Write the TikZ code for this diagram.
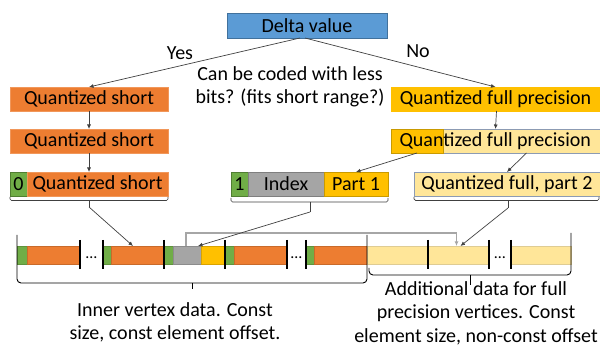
\documentclass[tikz,border=0pt]{standalone}
\usepackage{fontspec}
\setmainfont{Carlito}
\usetikzlibrary{arrows.meta,calc}
\definecolor{cblue}{HTML}{5B9BD5}
\definecolor{cblueb}{HTML}{41719C}
\definecolor{corange}{HTML}{ED7D31}
\definecolor{corangeb}{HTML}{C8652A}
\definecolor{cgold}{HTML}{FFC000}
\definecolor{cgoldb}{HTML}{C99A00}
\definecolor{clight}{HTML}{FFE699}
\definecolor{clightb}{HTML}{8C9BB3}
\definecolor{cgreen}{HTML}{70AD47}
\definecolor{cgreenb}{HTML}{507E32}
\definecolor{cgray}{HTML}{A5A5A5}
\definecolor{cgrayb}{HTML}{7F7F7F}
\definecolor{cline}{HTML}{404040}
\definecolor{cgline}{HTML}{A6A6A6}
\begin{document}
\begin{tikzpicture}[x=1pt,y=-1pt,
  box/.style={anchor=north west, inner sep=0pt, outer sep=0pt, minimum height=24pt, line width=0.6pt, font=\fontsize{20}{24}\selectfont, text=black},
  txt/.style={inner sep=0pt, font=\fontsize{20}{23.5}\selectfont, align=center, text=black},
  seg/.style={anchor=west, inner sep=0pt, outer sep=0pt, minimum height=18pt, line width=0.5pt},
  arr/.style={draw=cline, line width=0.7pt, -{Latex[length=4.5pt,width=4pt]}},
  garr/.style={draw=cgline, line width=1.1pt, -{Latex[length=4.5pt,width=4pt]}},
  brk/.style={draw=cline, line width=0.7pt, rounded corners=1.5pt},
  brc/.style={draw=black, line width=0.9pt, rounded corners=4pt},
  tick/.style={draw=black, line width=1.1pt},
  dots/.style={inner sep=0pt, font=\fontsize{16}{18}\selectfont, text=black}]
\useasboundingbox (0,0) rectangle (600,347);

% top
\node[box, fill=cblue, draw=cblueb, minimum width=160pt, minimum height=25pt] (delta) at (227,13) {Delta value};
\node[txt] (yes) at (180,53) {Yes};
\node[txt] (no) at (418,51) {No};
\node[txt] (q) at (290,87) {Can be coded with less\\bits? (fits short range?)};

% left column
\node[box, fill=corange, draw=corange!80!white, minimum width=158pt] (qs1) at (10,87) {Quantized short};
\node[box, fill=corange, draw=corange!80!white, minimum width=158pt] (qs2) at (10,129) {Quantized short};
\node[box, fill=cgreen, draw=cgreenb, minimum width=17pt] (qs3z) at (10,172) {0};
\node[box, fill=corange, draw=corange!80!white, minimum width=141pt] (qs3) at (27,172) {Quantized short};

% middle
\node[box, fill=cgreen, draw=cgreenb, minimum width=17pt] (one) at (231,172) {1};
\node[box, fill=cgray, draw=cgrayb, minimum width=76pt] (idx) at (248,172) {Index};
\node[box, fill=cgold, draw=cgoldb, minimum width=64pt] (p1) at (324,172) {Part 1};

% right column
\node[box, fill=cgold, draw=cgold, minimum width=209pt] (qf1) at (391,87) {Quantized full precision};
\node[box, fill=clight, draw=clightb, minimum width=157pt] (qf2b) at (443,129) {};
\node[box, fill=cgold, draw=cgoldb, minimum width=52pt] (qf2a) at (391,129) {};
\node[txt, font=\fontsize{20}{24}\selectfont] (qf2) at ($(qf2a.center)!0.5!(qf2b.center)+(26,0)$) {Quantized full precision};
\node[box, fill=clight, draw=clightb, minimum width=186pt] (qf3) at (414,172) {Quantized full, part 2};

% connectors top
\draw[arr] ([xshift=-7]delta.south) -- (qs1.north);
\draw[arr] ([xshift=-2]delta.south) -- (qf1.north);
\draw[arr] (qs1.south) -- (qs2.north);
\draw[arr] (qs2.south) -- (qs2.south |- qs3.north);
\draw[arr] ([xshift=1]qf1.south) -- (qf1.south |- qf2a.north);
\draw[arr] (qf2a.south) -- (p1.north);
\draw[arr] ([xshift=5]qf2b.south) -- (qf3.north);

% bar
\node[seg, fill=cgreen, draw=cgreen!85!black, minimum width=10pt] (g1) at (17,255) {};
\node[seg, fill=corange, draw=corange!85!black, minimum width=53pt] (o1) at (27,255) {};
\node[seg, fill=cgreen, draw=cgreen!85!black, minimum width=8pt] (g2) at (103,255) {};
\node[seg, fill=corange, draw=corange!85!black, minimum width=53pt] (o2) at (111,255) {};
\node[seg, fill=cgreen, draw=cgreen!85!black, minimum width=9pt] (g3) at (164,255) {};
\node[seg, fill=cgray, draw=cgray!85!black, minimum width=28pt] (gr) at (173,255) {};
\node[seg, fill=cgold, draw=cgold!85!black, minimum width=24pt] (gd) at (201,255) {};
\node[seg, fill=cgreen, draw=cgreen!85!black, minimum width=9pt] (g4) at (225,255) {};
\node[seg, fill=corange, draw=corange!85!black, minimum width=53pt] (o3) at (234,255) {};
\node[seg, fill=cgreen, draw=cgreen!85!black, minimum width=8pt] (g5) at (306,255) {};
\node[seg, fill=corange, draw=corange!85!black, minimum width=53pt] (o4) at (314,255) {};
\node[seg, fill=clight, draw=clight!75!gray, minimum width=61pt] (y1) at (367,255) {};
\node[seg, fill=clight, draw=clight!75!gray, minimum width=61pt] (y2) at (428,255) {};
\node[seg, fill=clight, draw=clight!75!gray, minimum width=60pt] (y3) at (511,255) {};

\node[dots] (d1) at (91.5,258) {\ldots};
\node[dots] (d2) at (296.5,258) {\ldots};
\node[dots] (d3) at (500,258) {\ldots};

\foreach \xx in {80,103,164,225,287,306,428,489,511}
  \draw[tick] (\xx,240) -- (\xx,269);

% gray connector
\draw[garr] ([xshift=-1]gr.north) -- ++(0,-13) -| ([xshift=-2]y2.north);

% small brackets and arrows
\draw[brk] (10,197) |- (89,200.5) -| (168,197);
\draw[cline, line width=0.7pt] (89,200.5) -- (89,207) coordinate (s1);
\draw[arr] (s1) -- ([xshift=-4.5]o2.north);

\draw[brk] (231,198) |- (310,202) -| (388,198);
\draw[cline, line width=0.7pt] (310,202) -- (310,212) coordinate (s2);
\draw[arr] (s2) -- ([xshift=11]gr.north);

\draw[brk] (414,197) |- (508,200.5) -| (599,197);
\draw[cline, line width=0.7pt] (508,200.5) -- (508,208) coordinate (s3);
\draw[arr] (s3) -- ([xshift=2]y2.north);

% big braces
\draw[brc] (17,235) |- (192,283) -| (367,235);
\draw[black, line width=0.9pt] (192,283) -- (192,289);
\draw[brc] (369,268) |- (470,275) -| (571,233);
\draw[black, line width=0.9pt] (470,275) -- (470,285);

% bottom texts
\node[txt] (inner) at (175,322.5) {Inner vertex data. Const\\size, const element offset.};
\node[txt] (addl) at (476,313) {Additional data for full\\precision vertices. Const\\element size, non-const offset};
\end{tikzpicture}
\end{document}
